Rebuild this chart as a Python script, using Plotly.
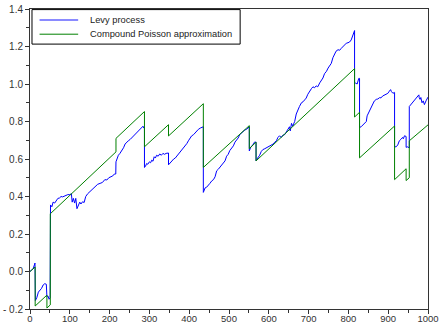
import plotly.graph_objects as go

# Compound Poisson approximation (polyline vertices)
green_t = [0, 13, 13, 42.5, 42.5, 51, 51, 216, 216, 287.6, 287.6, 348, 348,
           435.5, 435.5, 551, 551, 568, 568, 815.5, 815.5, 828, 828, 916, 916,
           945, 945, 953, 953, 1000]
green_v = [0.0, 0.024, -0.184, -0.126, -0.195, -0.178, 0.308, 0.638, 0.71, 0.853,
           0.665, 0.783, 0.723, 0.895, 0.555, 0.778, 0.655, 0.69, 0.59, 1.082,
           0.824, 0.849, 0.606, 0.776, 0.49, 0.548, 0.485, 0.5, 0.697, 0.782]

# Levy process (path)
blue_t = [0, 4, 8, 11, 12.5, 13.5, 17, 21, 25, 29, 33, 37, 41, 42.5, 45, 48, 50.5,
          51.5, 55, 58, 62, 66, 70, 74, 78, 82, 86, 90, 95, 100, 104, 106, 109, 112,
          115, 118, 121, 125, 128, 132, 136, 140, 145, 150, 155, 160, 165, 170, 176,
          182, 188, 193, 198, 203, 208, 212, 215.5, 216, 222, 226, 231, 235, 239, 243,
          247, 252, 256, 260, 264, 268, 272, 277, 281, 284, 286, 287.6, 287.6, 290,
          293, 296, 300, 303, 306, 309, 312, 315, 318, 322, 326, 330, 334, 338, 342,
          346, 348, 348, 352, 356, 361, 365, 369, 373, 377, 381, 386, 390, 394, 398,
          402, 406, 411, 415, 419, 423, 428, 432, 435.5, 435.5, 440, 444, 448, 452,
          457, 461, 465, 469, 473, 477, 482, 486, 490, 494, 498, 502, 506, 511, 515,
          519, 523, 527, 531, 536, 540, 544, 548, 551, 551, 555, 560, 564, 568, 568,
          572, 577, 581, 585, 590, 594, 598, 602, 607, 611, 615, 619, 623, 627, 631,
          636, 640, 644, 648, 652, 654, 657, 660, 665, 669, 673, 677, 682, 686, 690,
          694, 698, 703, 707, 711, 715, 719, 723, 728, 732, 736, 740, 745, 749, 753,
          757, 761, 765, 769, 774, 778, 782, 786, 790, 795, 799, 803, 807, 811, 813,
          815.5, 815.5, 818, 822, 826, 828, 828, 832, 836, 840, 845, 847, 849, 853,
          857, 861, 865, 870, 874, 878, 882, 886, 890, 895, 899, 903, 906, 908, 912,
          915, 916, 916, 920, 924, 928, 932, 936, 938, 941, 945, 945, 948, 951, 953,
          953, 957, 961, 966, 970, 974, 977, 978, 980, 982, 985, 988, 991, 995, 999,
          1000]
blue_v = [0.0, 0.008, 0.015, 0.035, 0.045, -0.155, -0.14, -0.11, -0.10, -0.09, -0.072,
          -0.065, -0.068, -0.135, -0.13, -0.148, -0.14,
          0.355, 0.345, 0.37, 0.365, 0.38, 0.39, 0.392, 0.40, 0.398, 0.402, 0.405, 0.41,
          0.41, 0.415, 0.37, 0.39, 0.365, 0.39, 0.335, 0.35, 0.37, 0.36, 0.372, 0.368,
          0.40, 0.415, 0.425, 0.44, 0.45, 0.455, 0.465, 0.47, 0.475, 0.49, 0.488, 0.50,
          0.505, 0.51, 0.52, 0.52, 0.585, 0.62, 0.63, 0.645, 0.66, 0.68, 0.69, 0.697,
          0.705, 0.714, 0.72, 0.732, 0.74, 0.75, 0.76, 0.768, 0.775, 0.765, 0.77, 0.555,
          0.56, 0.576, 0.572, 0.585, 0.58, 0.594, 0.588, 0.612, 0.605, 0.62, 0.615,
          0.627, 0.62, 0.63, 0.625, 0.63, 0.632, 0.632, 0.569, 0.58, 0.59, 0.60, 0.605,
          0.615, 0.626, 0.635, 0.647, 0.66, 0.67, 0.682, 0.697, 0.71, 0.723, 0.73, 0.74,
          0.75, 0.758, 0.765, 0.77, 0.772, 0.422, 0.446, 0.45, 0.458, 0.47, 0.484, 0.49,
          0.505, 0.537, 0.545, 0.555, 0.57, 0.581, 0.59, 0.615, 0.625, 0.645, 0.655,
          0.67, 0.69, 0.70, 0.712, 0.73, 0.738, 0.75, 0.755, 0.758, 0.765, 0.772, 0.643,
          0.665, 0.675, 0.69, 0.69, 0.59, 0.605, 0.62, 0.64, 0.65, 0.655, 0.66, 0.665,
          0.672, 0.678, 0.68, 0.69, 0.697, 0.715, 0.724, 0.715, 0.728, 0.73, 0.745,
          0.755, 0.772, 0.75, 0.79, 0.775, 0.80, 0.84, 0.865, 0.88, 0.90, 0.905, 0.915,
          0.925, 0.945, 0.965, 0.975, 0.985, 0.98, 0.99, 0.985, 1.006, 1.02, 1.032,
          1.055, 1.068, 1.085, 1.095, 1.11, 1.14, 1.155, 1.175, 1.183, 1.18, 1.19, 1.20,
          1.21, 1.218, 1.22, 1.224, 1.235, 1.254, 1.27, 1.285, 1.0, 1.005, 1.0, 1.03,
          1.03, 0.768, 0.772, 0.78, 0.79, 0.80, 0.83, 0.838, 0.86, 0.876, 0.89, 0.909,
          0.918, 0.92, 0.927, 0.926, 0.936, 0.94, 0.945, 0.95, 0.962, 0.97, 0.96, 0.95,
          0.955, 0.955, 0.665, 0.665, 0.675, 0.697, 0.705, 0.715, 0.708, 0.724, 0.72,
          0.662, 0.665, 0.66, 0.66, 0.88, 0.89, 0.90, 0.914, 0.925, 0.936, 0.942, 0.927,
          0.918, 0.928, 0.90, 0.91, 0.89, 0.91, 0.925, 0.93]

x_ticks = [0, 100, 200, 300, 400, 500, 600, 700, 800, 900, 1000]
y_ticks = [-0.2, 0.0, 0.2, 0.4, 0.6, 0.8, 1.0, 1.2, 1.4]
y_labels = ["- 0.2", "0.0", "0.2", "0.4", "0.6", "0.8", "1.0", "1.2", "1.4"]
series_names = ["Levy process", "Compound Poisson approximation"]

FONT = "Liberation Sans, Arial, Helvetica"

fig = go.Figure()
fig.add_trace(go.Scatter(x=blue_t, y=blue_v, mode="lines", name=series_names[0],
                         line=dict(color="#0000ff", width=1), showlegend=False))
fig.add_trace(go.Scatter(x=green_t, y=green_v, mode="lines", name=series_names[1],
                         line=dict(color="#008000", width=1), showlegend=False))

axis_common = dict(showgrid=False, zeroline=False, showline=True, linecolor="#333333",
                   linewidth=1, mirror=True, ticks="outside", ticklen=4, tickwidth=1,
                   tickcolor="#333333", automargin=False)

# Legend drawn as a framed box (paper coordinates)
shapes = [
    dict(type="rect", xref="paper", yref="paper", x0=0.005, x1=0.528, y0=0.883, y1=0.998,
         line=dict(color="#000000", width=1), fillcolor="white", layer="above"),
    dict(type="line", xref="paper", yref="paper", x0=0.024, x1=0.121, y0=0.963, y1=0.963,
         line=dict(color="#8a8aff", width=2), layer="above"),
    dict(type="line", xref="paper", yref="paper", x0=0.024, x1=0.121, y0=0.916, y1=0.916,
         line=dict(color="#008000", width=1), layer="above"),
]
annotations = [
    dict(xref="paper", yref="paper", x=0.146, y=0.963, text=series_names[0],
         showarrow=False, xanchor="left", yanchor="middle",
         font=dict(family=FONT, size=9.3, color="#222222")),
    dict(xref="paper", yref="paper", x=0.146, y=0.916, text=series_names[1],
         showarrow=False, xanchor="left", yanchor="middle",
         font=dict(family=FONT, size=9.3, color="#222222")),
]

fig.update_layout(
    width=440, height=324,
    margin=dict(l=30, r=12, t=9, b=15),
    paper_bgcolor="white", plot_bgcolor="white",
    showlegend=False,
    shapes=shapes, annotations=annotations,
    xaxis=dict(range=[0, 1000], tickvals=x_ticks, ticktext=[str(v) for v in x_ticks],
               minor=dict(ticks="outside", ticklen=3, dtick=50, tickcolor="#333333"),
               ticklabelstandoff=-3,
               tickfont=dict(family=FONT, size=9.5, color="#333333"),
               **axis_common),
    yaxis=dict(range=[-0.2, 1.4], tickvals=y_ticks, ticktext=y_labels,
               minor=dict(ticks="outside", ticklen=3, dtick=0.1, tickcolor="#333333"),
               tickfont=dict(family=FONT, size=10, color="#333333"),
               **axis_common),
)

fig.write_html("out.html", config={"displayModeBar": False},
               post_script="document.body.style.margin='0';document.body.style.overflow='hidden';")
